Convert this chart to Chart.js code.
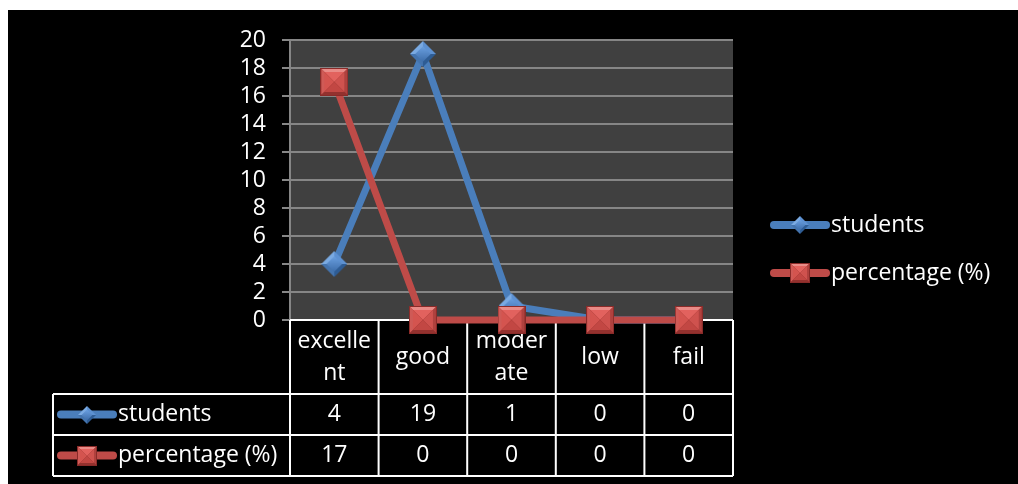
<!DOCTYPE html>
<html>
<head>
<meta charset="utf-8">
<script src="https://cdn.jsdelivr.net/npm/chart.js@4.4.1/dist/chart.umd.min.js"></script>
<style>
  html, body { margin: 0; padding: 0; background: #ffffff; }
  #wrap { position: absolute; left: 8px; top: 10px; width: 1010px; height: 474px; background: #000000; }
  canvas { display: block; }
</style>
</head>
<body>
<div id="wrap"><canvas id="chart" width="1010" height="474"></canvas></div>
<script>
// Grade categories (split where the table cell wraps them)
const categories = [["excelle", "nt"], ["good"], ["moder", "ate"], ["low"], ["fail"]];
const seriesNames = ["students", "percentage (%)"];
const students = [4, 19, 1, 0, 0];
const percentage = [17, 0, 0, 0, 0];
const yMin = 0, yMax = 20, yStep = 2;

const FONT = "'Open Sans', 'DejaVu Sans', sans-serif";
const FONT_SIZE = 23;
const BLUE = "#4A7EBB";
const RED = "#BE4B48";

// Bevelled marker sprites
function makeDiamond(s) {
  const c = document.createElement("canvas");
  c.width = s; c.height = s;
  const g = c.getContext("2d");
  const h = s / 2;
  const tri = (pts, col) => {
    g.beginPath(); g.moveTo(pts[0][0], pts[0][1]);
    for (let i = 1; i < pts.length; i++) g.lineTo(pts[i][0], pts[i][1]);
    g.closePath(); g.fillStyle = col; g.fill();
  };
  tri([[0, h], [h, 0], [h, h]], "#7AAAE2");
  tri([[h, 0], [s, h], [h, h]], "#5D91D2");
  tri([[s, h], [h, s], [h, h]], "#2E5C94");
  tri([[h, s], [0, h], [h, h]], "#4474AE");
  const k = s * 0.2;
  const gr = g.createLinearGradient(0, k, 0, s - k);
  gr.addColorStop(0, "#6A9FE0");
  gr.addColorStop(1, "#3D6DAA");
  tri([[k, h], [h, k], [s - k, h], [h, s - k]], gr);
  return c;
}

function makeSquare(s) {
  const c = document.createElement("canvas");
  c.width = s; c.height = s;
  const g = c.getContext("2d");
  const b = Math.max(2, Math.round(s * 0.12));
  const poly = (pts, col) => {
    g.beginPath(); g.moveTo(pts[0][0], pts[0][1]);
    for (let i = 1; i < pts.length; i++) g.lineTo(pts[i][0], pts[i][1]);
    g.closePath(); g.fillStyle = col; g.fill();
  };
  g.fillStyle = "#8A2B29"; g.fillRect(0, 0, s, s);
  const o = 1, e = s - 1;
  poly([[o, o], [e, o], [e - b, o + b], [o + b, o + b]], "#E98B87");
  poly([[o, o], [o + b, o + b], [o + b, e - b], [o, e]], "#CF5A56");
  poly([[e, o], [e, e], [e - b, e - b], [e - b, o + b]], "#B0413E");
  poly([[o, e], [o + b, e - b], [e - b, e - b], [e, e]], "#93312E");
  const i0 = o + b, i1 = e - b, m = s / 2;
  poly([[i0, i0], [i1, i0], [m, m]], "#E2625E");
  poly([[i0, i0], [m, m], [i0, i1]], "#D4544F");
  poly([[i1, i0], [i1, i1], [m, m]], "#CF524E");
  poly([[i0, i1], [m, m], [i1, i1]], "#C24743");
  return c;
}

const diamondBig = makeDiamond(26);
const squareBig = makeSquare(28);
const diamondSmall = makeDiamond(18);
const squareSmall = makeSquare(20);

const keyStyles = [
  { color: BLUE, marker: diamondSmall },
  { color: RED, marker: squareSmall }
];
const seriesValues = [students, percentage];

function drawKey(ctx, x0, x1, y, style) {
  ctx.save();
  ctx.strokeStyle = style.color;
  ctx.lineWidth = 8;
  ctx.lineCap = "round";
  ctx.beginPath(); ctx.moveTo(x0 + 4, y); ctx.lineTo(x1 - 4, y); ctx.stroke();
  const m = style.marker;
  ctx.drawImage(m, Math.round((x0 + x1) / 2 - m.width / 2), Math.round(y - m.height / 2));
  ctx.restore();
}

// Dark plot panel
const panelPlugin = {
  id: "panel",
  beforeDraw(chart) {
    const { ctx, chartArea: a } = chart;
    ctx.save();
    ctx.fillStyle = "#404040";
    ctx.fillRect(a.left, a.top, a.right - a.left, a.bottom - a.top);
    ctx.restore();
  }
};

// Data table under the plot
const tablePlugin = {
  id: "dataTable",
  beforeDatasetsDraw(chart) {
    const { ctx, chartArea: a } = chart;
    const n = categories.length;
    const colW = (a.right - a.left) / n;
    const y0 = a.bottom, y1 = y0 + 74, y2 = y1 + 41, y3 = y2 + 41;
    const leftEdge = 45;
    ctx.save();
    ctx.strokeStyle = "#ffffff";
    ctx.lineWidth = 2;
    ctx.beginPath();
    ctx.moveTo(a.left, y0); ctx.lineTo(a.right, y0);
    ctx.moveTo(leftEdge, y1); ctx.lineTo(a.right, y1);
    ctx.moveTo(leftEdge, y2); ctx.lineTo(a.right, y2);
    ctx.moveTo(leftEdge, y3); ctx.lineTo(a.right, y3);
    for (let i = 0; i <= n; i++) {
      const x = a.left + i * colW;
      ctx.moveTo(x, y0); ctx.lineTo(x, y3);
    }
    ctx.moveTo(leftEdge, y1); ctx.lineTo(leftEdge, y3);
    ctx.stroke();

    ctx.fillStyle = "#ffffff";
    ctx.font = FONT_SIZE + "px " + FONT;
    ctx.textAlign = "center";
    ctx.textBaseline = "middle";
    const xs = chart.scales.x;
    categories.forEach((lines, i) => {
      const cx = xs.getPixelForValue(i);
      const lh = 32;
      const top = (y0 + y1) / 2 - (lines.length - 1) * lh / 2;
      lines.forEach((t, j) => ctx.fillText(t, cx, top + j * lh));
    });
    const rowMid = [(y1 + y2) / 2, (y2 + y3) / 2];
    seriesValues.forEach((vals, r) => {
      vals.forEach((v, i) => ctx.fillText(String(v), xs.getPixelForValue(i), rowMid[r]));
    });
    ctx.textAlign = "left";
    seriesNames.forEach((name, r) => {
      drawKey(ctx, 49, 109, rowMid[r], keyStyles[r]);
      ctx.fillText(name, 110, rowMid[r]);
    });
    ctx.restore();
  }
};

// Series legend on the right
const legendPlugin = {
  id: "sideLegend",
  afterDraw(chart) {
    const { ctx } = chart;
    const rows = [215, 263];
    ctx.save();
    ctx.fillStyle = "#ffffff";
    ctx.font = FONT_SIZE + "px " + FONT;
    ctx.textAlign = "left";
    ctx.textBaseline = "middle";
    seriesNames.forEach((name, r) => {
      drawKey(ctx, 762, 822, rows[r], keyStyles[r]);
      ctx.fillText(name, 823, rows[r]);
    });
    ctx.restore();
  }
};

new Chart(document.getElementById("chart"), {
  type: "line",
  data: {
    labels: categories,
    datasets: [
      {
        label: seriesNames[1],
        data: percentage,
        borderColor: RED,
        backgroundColor: RED,
        borderWidth: 7,
        pointStyle: squareBig,
        pointRadius: 14,
        tension: 0,
        clip: false,
        order: 0
      },
      {
        label: seriesNames[0],
        data: students,
        borderColor: BLUE,
        backgroundColor: BLUE,
        borderWidth: 7,
        pointStyle: diamondBig,
        pointRadius: 13,
        tension: 0,
        clip: false,
        order: 1
      }
    ]
  },
  options: {
    responsive: false,
    animation: false,
    devicePixelRatio: 1,
    layout: { padding: { left: 0, right: 285, top: 30, bottom: 164 } },
    plugins: { legend: { display: false }, tooltip: { enabled: false } },
    scales: {
      x: { type: "category", display: false, offset: true },
      y: {
        min: yMin, max: yMax,
        afterFit(scale) { scale.width = 282; },
        ticks: {
          stepSize: yStep,
          autoSkip: false,
          color: "#ffffff",
          padding: 16,
          font: { size: FONT_SIZE, family: FONT }
        },
        grid: { color: "#868686", lineWidth: 2, tickLength: 8, tickColor: "#868686" },
        border: { color: "#868686", width: 2 }
      }
    }
  },
  plugins: [panelPlugin, tablePlugin, legendPlugin]
});
</script>
</body>
</html>
